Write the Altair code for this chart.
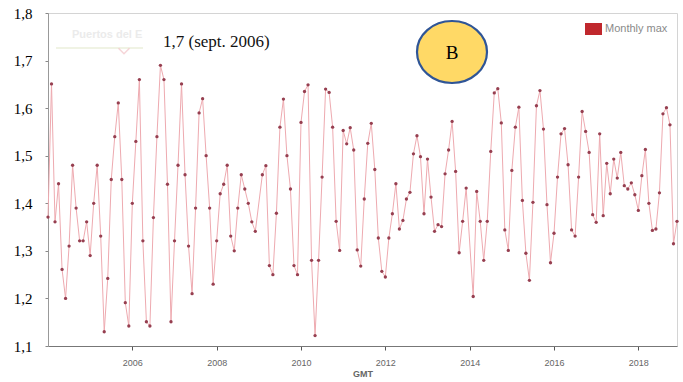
import altair as alt
import pandas as pd

# Monthly maximum values, one list per year (Jan..Dec); None = month without data
max_2004 = [1.371, 1.651, 1.361, 1.441, 1.261, 1.200, 1.310, 1.480, 1.390, 1.321, 1.321, 1.361]
max_2005 = [1.290, 1.400, 1.480, 1.331, 1.130, 1.242, 1.450, 1.540, 1.611, 1.450, 1.191, 1.142]
max_2006 = [1.400, 1.530, 1.660, 1.321, 1.151, 1.142, 1.370, 1.540, 1.690, 1.660, 1.440, 1.151]
max_2007 = [1.321, 1.480, 1.651, 1.460, 1.310, 1.210, 1.390, 1.590, 1.620, 1.500, 1.390, 1.230]
max_2008 = [1.321, 1.420, 1.440, 1.480, 1.331, 1.300, 1.390, 1.460, 1.430, 1.400, 1.361, 1.341]
max_2009 = [None, 1.460, 1.479, 1.269, 1.250, 1.379, 1.560, 1.619, 1.500, 1.430, 1.269, 1.250]
max_2010 = [1.570, 1.635, 1.649, 1.280, 1.122, 1.280, 1.455, 1.640, 1.633, 1.560, 1.362, 1.301]
max_2011 = [1.553, 1.525, 1.559, 1.512, 1.302, 1.268, 1.409, 1.526, 1.568, 1.471, 1.327, 1.257]
max_2012 = [1.245, 1.327, 1.378, 1.441, 1.346, 1.364, 1.409, 1.423, 1.504, 1.542, 1.498, 1.378]
max_2013 = [1.493, 1.413, 1.341, 1.355, 1.351, 1.462, 1.512, 1.572, 1.467, 1.296, 1.362, 1.432]
max_2014 = [None, 1.204, 1.425, 1.362, 1.280, 1.362, 1.509, 1.632, 1.641, 1.569, 1.344, 1.301]
max_2015 = [1.469, 1.560, 1.602, 1.406, 1.295, 1.238, 1.402, 1.605, 1.637, 1.556, 1.397, 1.275]
max_2016 = [1.337, 1.455, 1.546, 1.557, 1.481, 1.344, 1.331, 1.455, 1.593, 1.551, 1.507, 1.376]
max_2017 = [1.360, 1.546, 1.374, 1.484, 1.420, 1.493, 1.453, 1.507, 1.437, 1.430, 1.443, 1.418]
max_2018 = [1.385, 1.458, 1.513, 1.400, 1.343, 1.346, 1.422, 1.588, 1.601, 1.565, 1.315, 1.362]

yearly = {
    2004: max_2004, 2005: max_2005, 2006: max_2006, 2007: max_2007, 2008: max_2008,
    2009: max_2009, 2010: max_2010, 2011: max_2011, 2012: max_2012, 2013: max_2013,
    2014: max_2014, 2015: max_2015, 2016: max_2016, 2017: max_2017, 2018: max_2018,
}

x_ticks = [2006, 2008, 2010, 2012, 2014, 2016, 2018]
y_ticks = [1.1, 1.2, 1.3, 1.4, 1.5, 1.6, 1.7, 1.8]

rows = []
for year, values in yearly.items():
    for m, v in enumerate(values):
        if v is not None:
            rows.append({"t": year + m / 12, "value": v})
df = pd.DataFrame(rows)

W, H = 629, 333

x_enc = alt.X(
    "t:Q",
    scale=alt.Scale(domain=[2004, 2018 + 11 / 12], nice=False, zero=False),
    axis=alt.Axis(
        values=x_ticks, format="d", grid=False,
        labelColor="#666666", labelFont="Liberation Sans", labelFontSize=9,
        labelPadding=8, tickSize=4, tickColor="#555555", domainColor="#777777",
        title="GMT", titleFont="Liberation Sans", titleFontSize=9,
        titleColor="#666666", titleFontWeight="bold", titlePadding=2,
    ),
)
y_enc = alt.Y(
    "value:Q",
    scale=alt.Scale(domain=[1.1, 1.8], nice=False, zero=False),
    axis=alt.Axis(
        values=y_ticks, grid=False, title=None,
        labelExpr="replace(format(datum.value, '.1f'), '.', ',')",
        labelFont="Liberation Serif", labelFontSize=15, labelColor="#000000",
        labelPadding=13, tickSize=3, tickColor="#888888", domainColor="#999999",
    ),
)

base = alt.Chart(df)
line = base.mark_line(color="#eeaab0", strokeWidth=1).encode(x=x_enc, y=y_enc)
dots = base.mark_circle(color="#963f50", size=11, opacity=1).encode(x="t:Q", y="value:Q")

# Legend swatch and label
legend_box = alt.Chart(pd.DataFrame({"k": [0]})).mark_rect(color="#c0282d").encode(
    x=alt.value(537), x2=alt.value(554), y=alt.value(10), y2=alt.value(22)
)
legend_txt = alt.Chart(pd.DataFrame({"label": ["Monthly max"]})).mark_text(
    align="left", baseline="middle", font="Liberation Sans", fontSize=11, color="#8a8a8a"
).encode(x=alt.value(557), y=alt.value(16), text="label:N")

# Faded source label with its underline and pointer
source_txt = alt.Chart(pd.DataFrame({"label": ["Puertos del E"]})).mark_text(
    align="left", baseline="middle", font="Liberation Sans", fontSize=11,
    fontWeight="bold", color="#ebebeb"
).encode(x=alt.value(24), y=alt.value(22), text="label:N")
source_rule = alt.Chart(pd.DataFrame({"k": [0]})).mark_rule(
    color="#f0f3e4", strokeWidth=2
).encode(x=alt.value(8), x2=alt.value(95), y=alt.value(35))
source_arrow = alt.Chart(pd.DataFrame({"k": [0]})).mark_point(
    shape="M-1,-0.5L0,0.5L1,-0.5", color="#f3c4c8", size=120, strokeWidth=1.5, filled=False
).encode(x=alt.value(76), y=alt.value(38))

# Peak annotation
peak_txt = alt.Chart(pd.DataFrame({"label": ["1,7 (sept. 2006)"]})).mark_text(
    align="left", baseline="middle", font="Liberation Serif", fontSize=17, color="#111111"
).encode(x=alt.value(115), y=alt.value(29), text="label:N")

# Panel badge
badge = alt.Chart(pd.DataFrame({"k": [0]})).mark_point(
    shape="M-1,0A1,0.886,0,1,1,1,0A1,0.886,0,1,1,-1,0Z",
    filled=True, fill="#ffd966", stroke="#2f5597", strokeWidth=2.2,
    size=4900, opacity=1,
).encode(x=alt.value(404), y=alt.value(39))
badge_txt = alt.Chart(pd.DataFrame({"label": ["B"]})).mark_text(
    align="center", baseline="middle", font="Liberation Serif", fontSize=19, color="#000000"
).encode(x=alt.value(404), y=alt.value(40), text="label:N")

chart = alt.layer(
    line, dots, legend_box, legend_txt, source_rule, source_txt, source_arrow,
    peak_txt, badge, badge_txt,
).properties(
    width=W, height=H,
    padding={"left": 48, "top": 13, "right": 6, "bottom": 36},
    autosize=alt.AutoSizeParams(type="none"),
    background="white",
).configure_view(stroke="#d4d4d4", strokeWidth=1)

chart.save("out.html", embed_options={"renderer": "svg", "actions": False})
